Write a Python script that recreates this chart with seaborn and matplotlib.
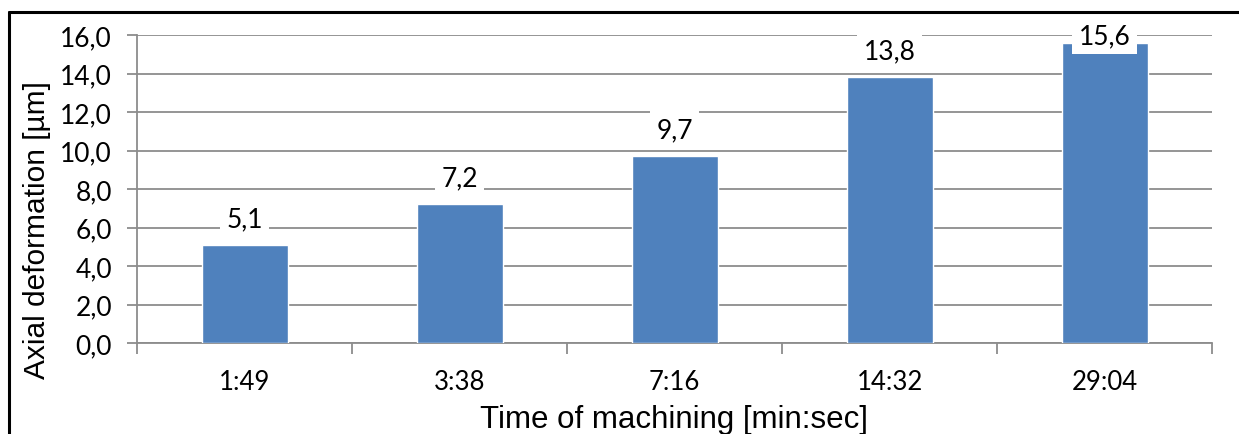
import matplotlib
matplotlib.use("Agg")
import matplotlib.pyplot as plt
import seaborn as sns
import pandas as pd
from matplotlib.lines import Line2D
from matplotlib.ticker import FuncFormatter, FixedLocator

categories = ["1:49", "3:38", "7:16", "14:32", "29:04"]
values = [5.1, 7.2, 9.7, 13.8, 15.6]
y_ticks = [0, 2, 4, 6, 8, 10, 12, 14, 16]

sns.set_theme(style="white")
plt.rcParams["font.family"] = ["Lato", "DejaVu Sans"]

df = pd.DataFrame({"time": categories, "def": values})

W, H = 1239, 435
fig = plt.figure(figsize=(W / 100, H / 100), dpi=100)
ax = fig.add_axes([137 / W, 1 - 344 / H, (1212 - 137) / W, (344 - 36) / H])

sns.barplot(data=df, x="time", y="def", color="#4F81BD", width=0.4,
            saturation=1, ax=ax, zorder=3)

ax.set_ylim(0, 16)
ax.set_xlim(-0.5, len(categories) - 0.5)
ax.yaxis.set_major_locator(FixedLocator(y_ticks))
ax.yaxis.set_major_formatter(FuncFormatter(lambda v, p: f"{v:.1f}".replace(".", ",")))
ax.grid(axis="y", color="#8C8C8C", linewidth=1.3, zorder=0)
ax.set_axisbelow(True)

for s in ["top", "right"]:
    ax.spines[s].set_visible(False)
for s in ["left", "bottom"]:
    ax.spines[s].set_color("#8C8C8C")
    ax.spines[s].set_linewidth(1.3)

FS = 19
ax.tick_params(axis="y", which="major", direction="out", length=7, width=1.3,
               color="#8C8C8C", labelsize=FS, pad=11, left=True, labelcolor="black")
ax.tick_params(axis="x", which="major", length=0, labelsize=18.5, pad=19, labelcolor="black")
ax.set_xticks(range(len(categories)))
ax.set_xticklabels(categories)
ax.xaxis.set_minor_locator(FixedLocator([i - 0.5 for i in range(len(categories) + 1)]))
ax.tick_params(axis="x", which="minor", direction="out", length=8, width=1.3,
               color="#8C8C8C", bottom=True)

# data labels: baseline 19 px above bar top, kept inside the plot area
labels = [f"{v:.1f}".replace(".", ",") for v in values]
px_per_unit = (344 - 36) / 16.0
cap = 16 - 8 / px_per_unit
for i, (v, lab) in enumerate(zip(values, labels)):
    yb = min(v + 19 / px_per_unit, cap)
    ax.text(i, yb, lab, ha="center", va="baseline", fontsize=FS, color="black",
            zorder=6, bbox=dict(facecolor="white", edgecolor="none", pad=4.5))

ax.set_ylabel("Axial deformation [µm]", fontsize=21.5, family=["Liberation Sans"],
              color="black")
ax.yaxis.set_label_coords(-(137 - 37) / (1212 - 137), (344 - 230) / (344 - 36))
ax.set_xlabel("Time of machining [min:sec]", fontsize=22.5, family=["Liberation Sans"],
              color="black")
ax.xaxis.set_label_coords(0.5, -(420 - 344) / (344 - 36))
ax.xaxis.label.set_va("center")
ax.yaxis.label.set_va("center")

# frame border (top and left visible)
fig.add_artist(Line2D([9 / W, 1.0], [1 - 13 / H, 1 - 13 / H], color="black", linewidth=2.2,
                      transform=fig.transFigure))
fig.add_artist(Line2D([9 / W, 9 / W], [0.0, 1 - 13 / H], color="black", linewidth=2.2,
                      transform=fig.transFigure))

fig.savefig("out.png", dpi=100, facecolor="white")
